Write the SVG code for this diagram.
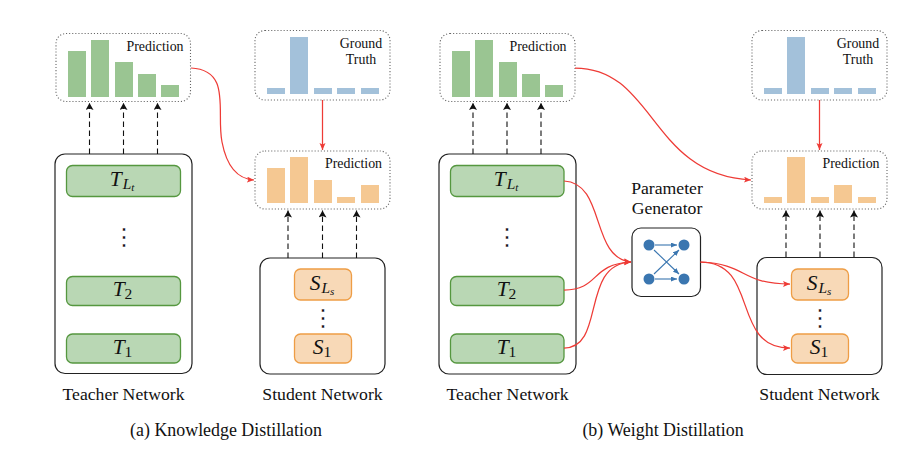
<svg xmlns="http://www.w3.org/2000/svg" width="923" height="461" viewBox="0 0 923 461">
<style>
text{font-family:"Liberation Serif","Times New Roman",serif;fill:#111;text-anchor:middle}
.lab{font-size:17.7px}
.small{font-size:13.9px}
.cap{font-size:17.9px}
.sym{font-size:21.5px;font-style:italic}
.sub{font-size:15.5px;font-style:italic}
.sub2{font-size:11px;font-style:italic}
.n{font-style:normal}
.vd{font-size:24px;fill:#000;stroke:#fff;stroke-width:.35}
.dot{fill:#fff;stroke:#666;stroke-width:1.1;stroke-dasharray:1.1 2}
.net{fill:#fff;stroke:#222;stroke-width:1.2}
.tb{fill:#b9d7b4;stroke:#55973f;stroke-width:1.3}
.sb{fill:#f8d9b7;stroke:#ee9d45;stroke-width:1.3}
.g{fill:#9ac592}.b{fill:#a3c1da}.o{fill:#f5c892}
.dash{fill:none;stroke:#111;stroke-width:1.1;stroke-dasharray:5.5 3.5}
.red{fill:none;stroke:#ee3b36;stroke-width:1.25}
.bl{stroke:#3a76b0;stroke-width:1.1;fill:none}
.nd{fill:#3a76b0}
</style>
<defs>
<marker id="ah" markerUnits="userSpaceOnUse" markerWidth="8" markerHeight="9" refX="7" refY="4" orient="auto"><path d="M0 0L7 4L0 8L1.500 4Z" fill="#111"/></marker>
<marker id="ar" markerUnits="userSpaceOnUse" markerWidth="8" markerHeight="8" refX="7" refY="3" orient="auto"><path d="M0 0L7 3L0 6L1.500 3Z" fill="#ee3b36"/></marker>
<marker id="ab" markerUnits="userSpaceOnUse" markerWidth="7" markerHeight="6" refX="6" refY="2.500" orient="auto"><path d="M0 0L6 2.500L0 5Z" fill="#3a76b0"/></marker>
</defs>

<g id="a-teacher-pred">
<rect class="dot" x="56" y="33.500" width="134.500" height="68" rx="10"/>
<rect class="g" x="68" y="51" width="18" height="46"/><rect class="g" x="91" y="40" width="18" height="57"/><rect class="g" x="115" y="62" width="18" height="35"/><rect class="g" x="138" y="74" width="18" height="23"/><rect class="g" x="161" y="85" width="18" height="12"/>
<text class="small" x="155" y="51">Prediction</text>
</g>
<g id="a-ground-truth">
<rect class="dot" x="255" y="30.500" width="135" height="69.500" rx="10"/>
<rect class="b" x="267" y="88" width="18" height="6"/><rect class="b" x="290" y="37" width="18" height="57"/><rect class="b" x="314" y="88" width="18" height="6"/><rect class="b" x="337" y="88" width="18" height="6"/><rect class="b" x="361" y="88" width="18" height="6"/>
<text class="small" x="361" y="48">Ground</text><text class="small" x="361" y="64">Truth</text>
</g>
<g id="a-student-pred">
<rect class="dot" x="255" y="151" width="135" height="58" rx="10"/>
<rect class="o" x="267" y="168" width="18" height="35"/><rect class="o" x="290" y="157" width="18" height="46"/><rect class="o" x="314" y="180" width="18" height="23"/><rect class="o" x="337" y="197" width="18" height="6"/><rect class="o" x="361" y="185" width="18" height="18"/>
<text class="small" x="353.500" y="168">Prediction</text>
</g>
<g id="a-teacher">
<rect class="net" x="55" y="154" width="137" height="219.500" rx="10"/>
<rect class="tb" x="66.500" y="165.500" width="114" height="31" rx="6"/>
<text class="sym" x="122" y="186">T<tspan class="sub" dy="3" dx="1">L</tspan><tspan class="sub2" dy="2">t</tspan></text>
<text class="vd" x="123.500" y="245">⋮</text>
<rect class="tb" x="66.500" y="276.500" width="114" height="29" rx="6"/>
<text class="sym" x="122.500" y="296">T<tspan class="sub n" dy="3">2</tspan></text>
<rect class="tb" x="66.500" y="334" width="114" height="29" rx="6"/>
<text class="sym" x="122.500" y="354">T<tspan class="sub n" dy="3">1</tspan></text>
</g>
<g id="a-student">
<rect class="net" x="260" y="258" width="125" height="116" rx="10"/>
<rect class="sb" x="294.500" y="269" width="57" height="31" rx="6"/>
<text class="sym" x="322" y="290">S<tspan class="sub" dy="3" dx="1">L</tspan><tspan class="sub2" dy="2">s</tspan></text>
<text class="vd" x="322.500" y="326">⋮</text>
<rect class="sb" x="294.500" y="334" width="57" height="29" rx="6"/>
<text class="sym" x="322" y="354">S<tspan class="sub n" dy="3">1</tspan></text>
</g>

<g id="b-teacher-pred">
<rect class="dot" x="440" y="33.500" width="135" height="68" rx="10"/>
<rect class="g" x="452" y="51" width="18" height="46"/><rect class="g" x="475" y="40" width="18" height="57"/><rect class="g" x="499" y="62" width="18" height="35"/><rect class="g" x="522" y="74" width="18" height="23"/><rect class="g" x="545" y="85" width="18" height="12"/>
<text class="small" x="538" y="51">Prediction</text>
</g>
<g id="b-ground-truth">
<rect class="dot" x="752" y="30.500" width="135" height="69.500" rx="10"/>
<rect class="b" x="764" y="88" width="18" height="6"/><rect class="b" x="787" y="37" width="18" height="57"/><rect class="b" x="811" y="88" width="18" height="6"/><rect class="b" x="834" y="88" width="18" height="6"/><rect class="b" x="858" y="88" width="18" height="6"/>
<text class="small" x="858" y="48">Ground</text><text class="small" x="858" y="64">Truth</text>
</g>
<g id="b-student-pred">
<rect class="dot" x="752" y="151" width="135" height="58" rx="10"/>
<rect class="o" x="764" y="197" width="18" height="6"/><rect class="o" x="787" y="157" width="18" height="46"/><rect class="o" x="811" y="197" width="18" height="6"/><rect class="o" x="834" y="185" width="18" height="18"/><rect class="o" x="858" y="197" width="18" height="6"/>
<text class="small" x="851" y="168">Prediction</text>
</g>
<g id="b-teacher">
<rect class="net" x="439" y="154" width="137" height="220" rx="10"/>
<rect class="tb" x="450.500" y="165.500" width="113.500" height="31" rx="6"/>
<text class="sym" x="506" y="186">T<tspan class="sub" dy="3" dx="1">L</tspan><tspan class="sub2" dy="2">t</tspan></text>
<text class="vd" x="507" y="245">⋮</text>
<rect class="tb" x="450.500" y="276.500" width="113.500" height="29" rx="6"/>
<text class="sym" x="506.500" y="296">T<tspan class="sub n" dy="3">2</tspan></text>
<rect class="tb" x="450.500" y="334" width="113.500" height="29" rx="6"/>
<text class="sym" x="506.500" y="354">T<tspan class="sub n" dy="3">1</tspan></text>
</g>
<g id="b-student">
<rect class="net" x="757" y="257.500" width="125" height="117" rx="10"/>
<rect class="sb" x="791.500" y="269" width="57" height="31" rx="6"/>
<text class="sym" x="819" y="290">S<tspan class="sub" dy="3" dx="1">L</tspan><tspan class="sub2" dy="2">s</tspan></text>
<text class="vd" x="819.500" y="326">⋮</text>
<rect class="sb" x="791.500" y="334" width="57" height="29" rx="6"/>
<text class="sym" x="819" y="354">S<tspan class="sub n" dy="3">1</tspan></text>
</g>
<g id="b-generator">
<rect class="net" x="632" y="228" width="68.500" height="68.500" rx="9"/>
<circle class="nd" cx="649" cy="245" r="5.500"/><circle class="nd" cx="684" cy="245" r="5.500"/><circle class="nd" cx="649" cy="279" r="5.500"/><circle class="nd" cx="684" cy="279" r="5.500"/>
<path class="bl" marker-end="url(#ab)" d="M655 245H677"/><path class="bl" marker-end="url(#ab)" d="M655 279H677"/><path class="bl" marker-end="url(#ab)" d="M654 250L679 274"/><path class="bl" marker-end="url(#ab)" d="M654 274L679 250"/>
<text class="lab" x="667" y="194">Parameter</text><text class="lab" x="667" y="214">Generator</text>
</g>

<g id="connectors">
<path class="dash" marker-end="url(#ah)" d="M89.500 154V103"/><path class="dash" marker-end="url(#ah)" d="M123.500 154V103"/><path class="dash" marker-end="url(#ah)" d="M157.500 154V103"/>
<path class="dash" marker-end="url(#ah)" d="M288 258V210.500"/><path class="dash" marker-end="url(#ah)" d="M322.500 258V210.500"/><path class="dash" marker-end="url(#ah)" d="M356.500 258V210.500"/>
<path class="dash" marker-end="url(#ah)" d="M473 154V103"/><path class="dash" marker-end="url(#ah)" d="M507 154V103"/><path class="dash" marker-end="url(#ah)" d="M541 154V103"/>
<path class="dash" marker-end="url(#ah)" d="M786 257V210.500"/><path class="dash" marker-end="url(#ah)" d="M820 257V210.500"/><path class="dash" marker-end="url(#ah)" d="M854 257V210.500"/>
<path class="red" marker-end="url(#ar)" d="M191 68C232 70 216 112 222 142C227 168 238 179 254 180"/>
<path class="red" marker-end="url(#ar)" d="M322.500 100V150"/>
<path class="red" marker-end="url(#ar)" d="M819.500 100V150"/>
<path class="red" marker-end="url(#ar)" d="M575 68C655 68 650 175 751 180"/>
<path class="red" marker-end="url(#ar)" d="M564 181C606 183 590 258 631 262"/>
<path class="red" marker-end="url(#ar)" d="M564 290C600 290 590 264 631 262"/>
<path class="red" marker-end="url(#ar)" d="M564 348C606 348 580 264 631 262"/>
<path class="red" marker-end="url(#ar)" d="M700.500 262C748 264 740 284 790 284"/>
<path class="red" marker-end="url(#ar)" d="M700.500 262C760 262 730 348 790 348"/>
</g>

<g id="captions">
<text class="lab" x="123.500" y="400">Teacher Network</text>
<text class="lab" x="322.500" y="400">Student Network</text>
<text class="lab" x="507.500" y="400">Teacher Network</text>
<text class="lab" x="819.500" y="400">Student Network</text>
<text class="cap" x="226" y="436">(a)  Knowledge Distillation</text>
<text class="cap" x="663" y="436">(b)  Weight Distillation</text>
</g>
</svg>
